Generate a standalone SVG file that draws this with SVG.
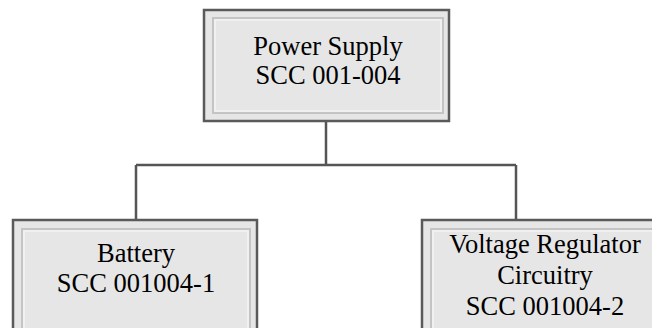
<svg xmlns="http://www.w3.org/2000/svg" width="652" height="328" viewBox="0 0 652 328">
  <style>
    .outer { fill: #e6e6e6; stroke: #5a5a5a; stroke-width: 2.5; }
    .inner { fill: none; stroke: #c4c4c4; stroke-width: 2; }
    .hl { fill: none; stroke: #f4f4f4; stroke-width: 1.5; }
    .lbl { font-family: "Liberation Serif", "Times New Roman", serif; font-size: 26.5px; fill: #000; text-anchor: middle; }
    .conn { fill: none; stroke: #555; stroke-width: 2.5; }
  </style>
  <rect width="652" height="328" fill="#ffffff"/>
  <g id="connectors">
    <path class="conn" d="M326 121 V165 M136 165 H516 M136 165 V220 M516 165 V220"/>
  </g>
  <g id="power-supply">
    <rect class="outer" x="204" y="10" width="245" height="111"/>
    <rect class="inner" x="213" y="18" width="230" height="95"/>
    <rect class="hl" x="215" y="20" width="226" height="91"/>
    <text class="lbl" x="328" y="55">Power Supply</text>
    <text class="lbl" x="328" y="84">SCC 001-004</text>
  </g>
  <g id="battery">
    <rect class="outer" x="13" y="220" width="244" height="120"/>
    <rect class="inner" x="22" y="229" width="228" height="120"/>
    <rect class="hl" x="24" y="231" width="224" height="120"/>
    <text class="lbl" x="136" y="262">Battery</text>
    <text class="lbl" x="136" y="292">SCC 001004-1</text>
  </g>
  <g id="voltage-regulator">
    <rect class="outer" x="422" y="220" width="244" height="120"/>
    <rect class="inner" x="431" y="229" width="228" height="120"/>
    <rect class="hl" x="433" y="231" width="224" height="120"/>
    <text class="lbl" x="545" y="253">Voltage Regulator</text>
    <text class="lbl" x="545" y="284">Circuitry</text>
    <text class="lbl" x="545" y="315">SCC 001004-2</text>
  </g>
</svg>
